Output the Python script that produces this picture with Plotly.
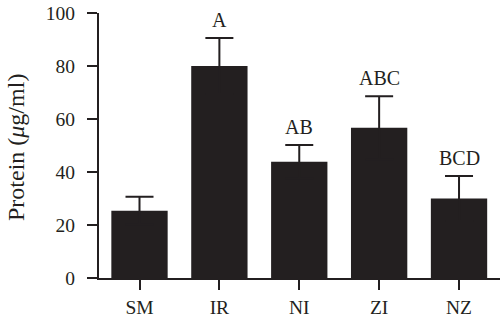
import plotly.graph_objects as go

categories = ["SM", "IR", "NI", "ZI", "NZ"]
means = [25.4, 80.0, 43.9, 56.7, 30.0]
errors = [5.3, 10.6, 6.3, 11.9, 8.5]
letters = ["", "A", "AB", "ABC", "BCD"]
yticks = [0, 20, 40, 60, 80, 100]
ytitle = "Protein (<i>μ</i>g/ml)"

INK = "#231F20"
FONT = "Liberation Serif, Times New Roman, serif"
W, H, L, R, T, B = 500, 323, 99, 0, 13, 45
PW, PH = W - L - R, H - T - B

fig = go.Figure()
fig.add_trace(go.Bar(
    x=categories, y=means, width=0.705,
    marker=dict(color=INK, line=dict(width=0)),
    error_y=dict(type="data", array=errors, color=INK, thickness=2, width=14),
))

for c, m, e, t in zip(categories, means, errors, letters):
    if t:
        fig.add_annotation(x=c, y=m + e, text=t, showarrow=False,
                           yanchor="middle", yshift=18,
                           font=dict(family=FONT, size=20, color=INK))

# y-axis title placed as a rotated annotation, centred beside the plot
fig.add_annotation(xref="paper", yref="paper",
                   x=(16 - L) / PW, y=(H - B - 148) / PH,
                   text=ytitle, textangle=-90, showarrow=False,
                   xanchor="center", yanchor="middle",
                   font=dict(family=FONT, size=24, color=INK))

fig.update_layout(
    width=W, height=H,
    margin=dict(l=L, r=R, t=T, b=B),
    plot_bgcolor="white", paper_bgcolor="white",
    showlegend=False,
    font=dict(family=FONT, size=19.5, color=INK),
)
fig.update_xaxes(
    range=[-0.507, 4.513], showline=True, linewidth=2, linecolor=INK,
    ticks="outside", ticklen=10, tickwidth=2, tickcolor=INK,
    showgrid=False, zeroline=False,
    tickfont=dict(family=FONT, size=19.5, color=INK),
    ticklabelstandoff=1,
)
fig.update_yaxes(
    range=[0, 100], tickvals=yticks, showline=True, linewidth=2, linecolor=INK,
    ticks="outside", ticklen=10, tickwidth=2, tickcolor=INK,
    showgrid=False, zeroline=False,
    tickfont=dict(family=FONT, size=19.5, color=INK),
    ticklabelstandoff=8,
)

fig.write_html("out.html")
